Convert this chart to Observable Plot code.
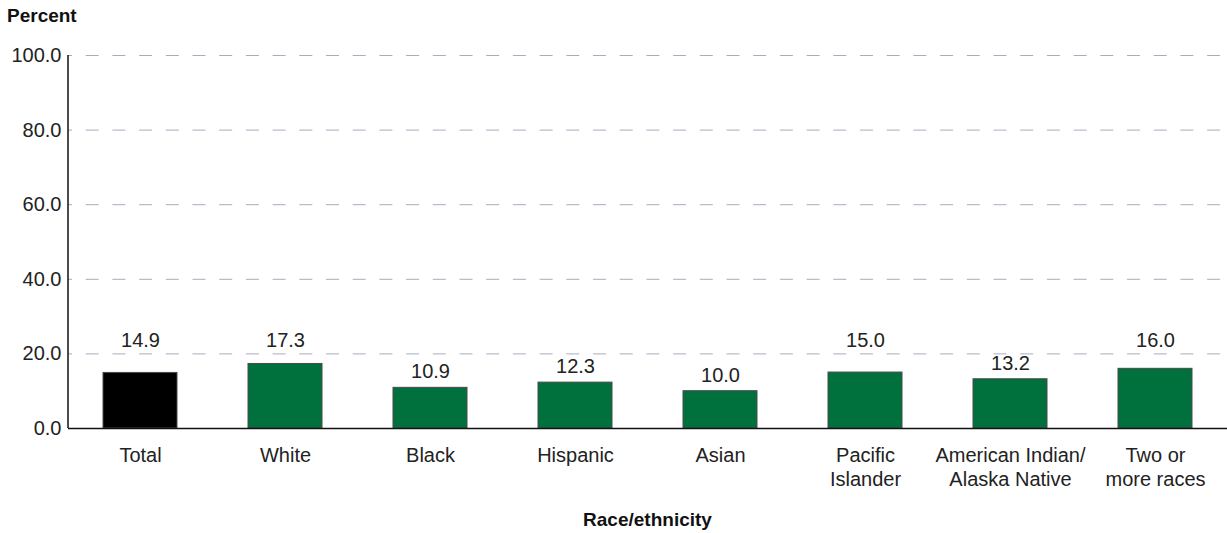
<!DOCTYPE html>
<html>
<head>
<meta charset="utf-8">
<script src="https://cdn.jsdelivr.net/npm/d3@7"></script>
<script src="https://cdn.jsdelivr.net/npm/@observablehq/plot@0.6"></script>
<style>
  body { margin: 0; background: #fff; font-family: "Liberation Sans", Arial, sans-serif; }
  #wrap { width: 1227px; height: 533px; position: relative; }
  .ytitle { position: absolute; left: 7px; top: 5px; font-weight: bold; font-size: 19px; color: #111; }
  .xtitle { position: absolute; left: 0; width: 1227px; top: 509px; text-align: center; font-weight: bold; font-size: 19px; color: #111; padding-left: 68px; box-sizing: border-box; }
  #chart { position: absolute; left: 0; top: 34px; }
</style>
</head>
<body>
<div id="wrap">
  <div class="ytitle">Percent</div>
  <div id="chart"></div>
  <div class="xtitle">Race/ethnicity</div>
</div>
<script>
const categories = ["Total", "White", "Black", "Hispanic", "Asian", "Pacific Islander", "American Indian/Alaska Native", "Two or more races"];
const tickLabels = ["Total", "White", "Black", "Hispanic", "Asian", "Pacific\nIslander", "American Indian/\nAlaska Native", "Two or\nmore races"];
const values = [14.9, 17.3, 10.9, 12.3, 10.0, 15.0, 13.2, 16.0];
const yTicks = [0, 20, 40, 60, 80, 100];

const data = categories.map((c, i) => ({category: c, value: values[i], total: c === "Total"}));
const labelOf = new Map(categories.map((c, i) => [c, tickLabels[i]]));
const fmt = d3.format(".1f");
const font = "Liberation Sans, Arial, sans-serif";
const FS = 20;

// vertical y-axis line drawn from the y scale
function yAxisLine(index, scales, values, dims) {
  const ns = "http://www.w3.org/2000/svg";
  const line = document.createElementNS(ns, "line");
  const x = dims.marginLeft;
  line.setAttribute("x1", x); line.setAttribute("x2", x);
  line.setAttribute("y1", scales.y(d3.min(yTicks))); line.setAttribute("y2", scales.y(d3.max(yTicks)));
  line.setAttribute("stroke", "#111"); line.setAttribute("stroke-width", 1.5);
  return line;
}

const chart = Plot.plot({
  width: 1227,
  height: 456,
  marginTop: 21,
  marginBottom: 62,
  marginLeft: 68,
  marginRight: 0,
  style: {fontFamily: font, fontSize: FS + "px", color: "#222", background: "#fff"},
  x: {domain: categories, paddingInner: 0.49, paddingOuter: 0.23, label: null},
  y: {domain: [0, 100], label: null},
  marks: [
    Plot.gridY(yTicks.filter(t => t > 0), {stroke: "#a9acbf", strokeOpacity: 1, strokeWidth: 1, strokeDasharray: "13,13.7", strokeDashoffset: 9}),
    Plot.barY(data, {x: "category", y: "value", fill: d => d.total ? "#000000" : "#00703c", stroke: "#4a4a4a", strokeWidth: 1}),
    Plot.text(data.filter(d => d.value <= 14.5), {x: "category", y: "value", text: d => fmt(d.value), dy: -16, fontSize: FS, fill: "#222"}),
    Plot.text(data.filter(d => d.value > 14.5), {x: "category", y: () => 20, text: d => fmt(d.value), dy: -13, fontSize: FS, fill: "#222"}),
    Plot.ruleY([0], {stroke: "#111", strokeWidth: 1.5}),
    yAxisLine,
    Plot.axisY(yTicks, {tickSize: 0, tickPadding: 7, tickFormat: fmt, fontSize: FS, fill: "#222", label: null}),
    Plot.axisX({tickSize: 0, tickPadding: 16, tickFormat: d => labelOf.get(d), fontSize: FS, lineHeight: 1.22, fill: "#222", label: null})
  ]
});
document.getElementById("chart").appendChild(chart);
</script>
</body>
</html>
